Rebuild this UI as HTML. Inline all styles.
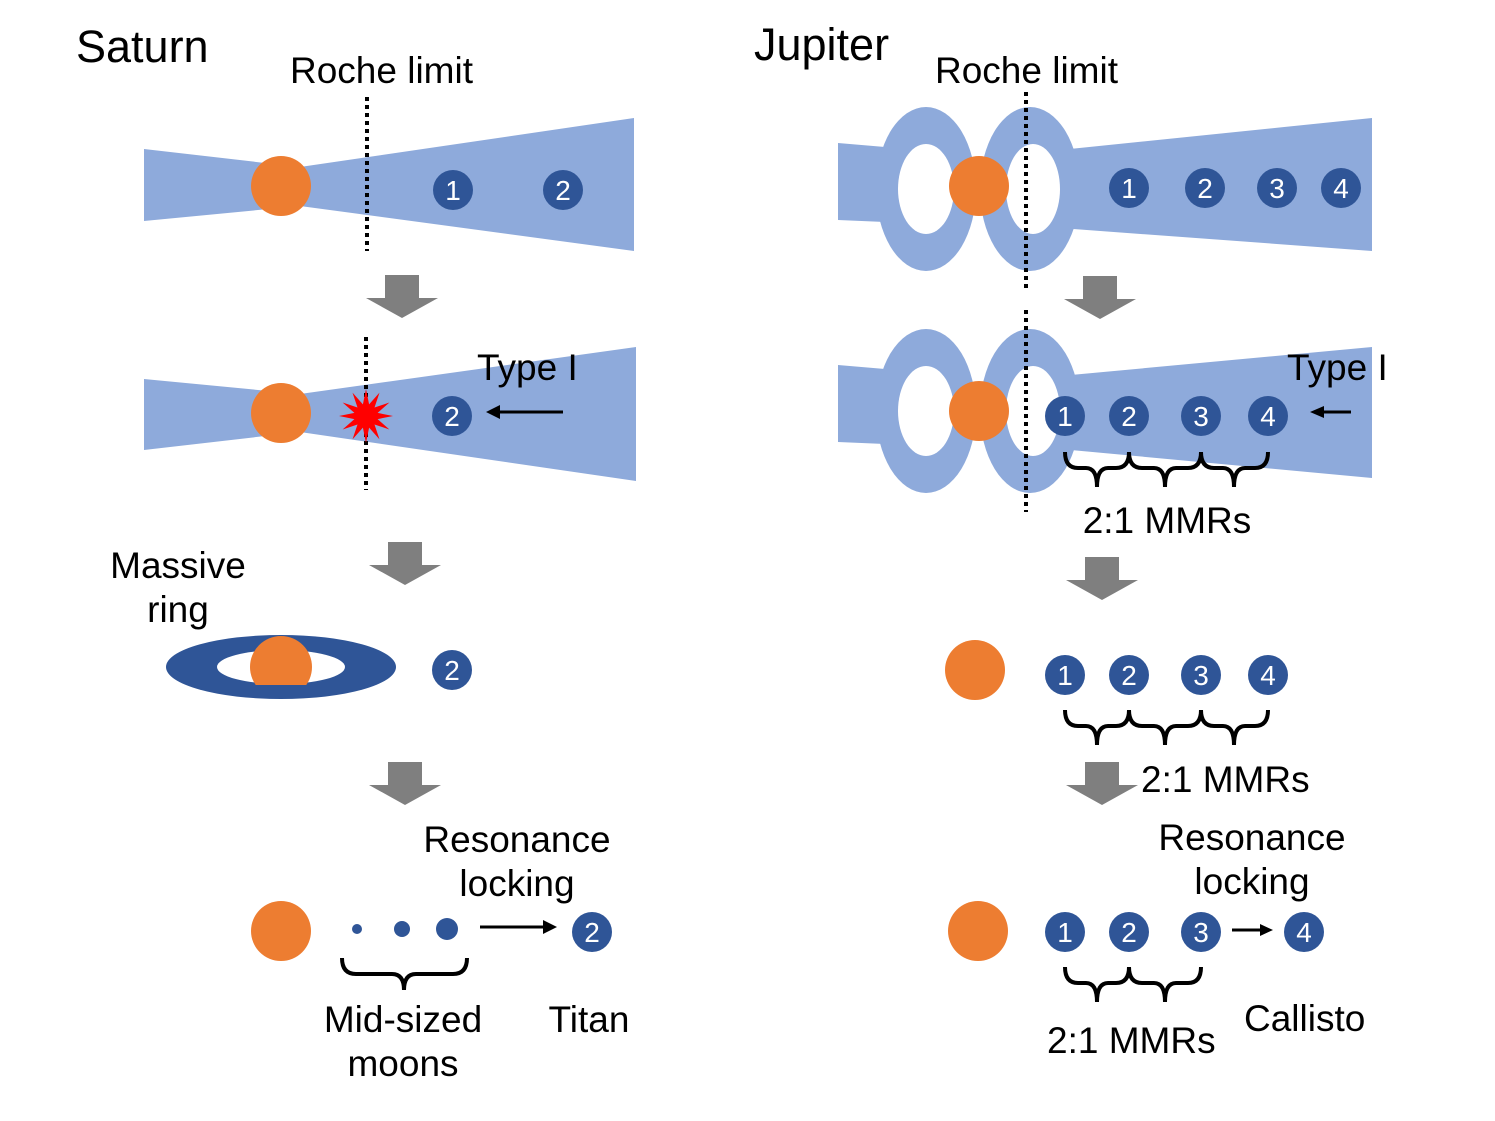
<!DOCTYPE html>
<html><head><meta charset="utf-8"><style>
html,body{margin:0;padding:0;background:#fff;}
svg{display:block;}
text{font-family:"Liberation Sans",Arial,sans-serif;fill:#000;}
.n{fill:#fff;font-size:28px;text-anchor:middle;}
.t{font-size:37px;}
.c{text-anchor:middle;}
</style></head><body>
<svg width="1495" height="1121" viewBox="0 0 1495 1121" xmlns="http://www.w3.org/2000/svg">
<defs>
<g id="arr"><polygon points="-17,0 17,0 17,23 36,23 0,43 -36,23 -17,23" fill="#7F7F7F"/></g>
</defs>
<!-- Saturn -->
<text x="76" y="62" style="font-size:45px">Saturn</text>
<text x="290" y="83" class="t">Roche limit</text>
<polygon points="144,149 300,167 634,118 634,251 300,206 144,221" fill="#8EAADB"/>
<circle cx="281" cy="186" r="30" fill="#ED7D31"/>
<line x1="367" y1="97" x2="367" y2="251" stroke="#000" stroke-width="4" stroke-dasharray="4,4"/>
<circle cx="453" cy="190" r="20" fill="#2F5597"/><text x="453" y="200" class="n">1</text>
<circle cx="563" cy="190" r="20" fill="#2F5597"/><text x="563" y="200" class="n">2</text>
<use href="#arr" x="402" y="275"/>

<polygon points="144,379 300,394 636,347 636,481 300,432 144,450" fill="#8EAADB"/>
<circle cx="281" cy="413" r="30" fill="#ED7D31"/>
<line x1="366" y1="337" x2="366" y2="490" stroke="#000" stroke-width="4" stroke-dasharray="4,4"/>
<polygon fill="#FF0000" points="393,416 377.6,419.1 389.4,429.5 374.5,424.5 379.5,439.4 369.1,427.6 366,443 362.9,427.6 352.5,439.4 357.5,424.5 342.6,429.5 354.4,419.1 339,416 354.4,412.9 342.6,402.5 357.5,407.5 352.5,392.6 362.9,404.4 366,389 369.1,404.4 379.5,392.6 374.5,407.5 389.4,402.5 377.6,412.9"/>
<circle cx="452" cy="416" r="20" fill="#2F5597"/><text x="452" y="426" class="n">2</text>
<line x1="563" y1="412" x2="498" y2="412" stroke="#000" stroke-width="3"/>
<polygon points="486,412 500,405 500,419" fill="#000"/>
<text x="477" y="380" class="t">Type I</text>
<use href="#arr" x="405" y="542"/>

<text x="178" y="578" class="t c">Massive</text>
<text x="178" y="622" class="t c">ring</text>
<ellipse cx="281" cy="667" rx="115" ry="32" fill="#2F5597"/>
<ellipse cx="281" cy="667" rx="64" ry="17" fill="#fff"/>
<clipPath id="cp"><rect x="240" y="600" width="90" height="85"/></clipPath>
<circle cx="281" cy="667" r="31" fill="#ED7D31" clip-path="url(#cp)"/>
<circle cx="452" cy="670" r="20" fill="#2F5597"/><text x="452" y="680" class="n">2</text>
<use href="#arr" x="405" y="762"/>

<text x="517" y="852" class="t c">Resonance</text>
<text x="517" y="896" class="t c">locking</text>
<circle cx="281" cy="931" r="30" fill="#ED7D31"/>
<circle cx="357" cy="929" r="5" fill="#2F5597"/>
<circle cx="402" cy="929" r="8" fill="#2F5597"/>
<circle cx="447" cy="929" r="11" fill="#2F5597"/>
<line x1="480" y1="927" x2="545" y2="927" stroke="#000" stroke-width="3"/>
<polygon points="557,927 543,920 543,934" fill="#000"/>
<circle cx="592" cy="932" r="20" fill="#2F5597"/><text x="592" y="942" class="n">2</text>
<path d="M342,958 Q342,974 356,974 L392,974 Q404,974 404,990 Q404,974 416,974 L453,974 Q467,974 467,958" fill="none" stroke="#000" stroke-width="4"/>
<text x="403" y="1032" class="t c">Mid-sized</text>
<text x="403" y="1076" class="t c">moons</text>
<text x="589" y="1032" class="t c">Titan</text>

<!-- Jupiter -->
<text x="754" y="60" style="font-size:45px">Jupiter</text>
<text x="935" y="83" class="t">Roche limit</text>
<g>
<polygon points="838,143 885,147 885,222 838,220" fill="#8EAADB"/>
<polygon points="1060,150 1372,118 1372,251 1060,228" fill="#8EAADB"/>
<ellipse cx="926" cy="189" rx="50" ry="82" fill="#8EAADB"/>
<ellipse cx="1030" cy="189" rx="50" ry="82" fill="#8EAADB"/>
<ellipse cx="926" cy="189" rx="28" ry="45" fill="#fff"/>
<ellipse cx="1033" cy="189" rx="27" ry="45" fill="#fff"/>
</g>
<circle cx="979" cy="186" r="30" fill="#ED7D31"/>
<line x1="1026" y1="92" x2="1026" y2="292" stroke="#000" stroke-width="4" stroke-dasharray="4,4"/>
<circle cx="1129" cy="188" r="20" fill="#2F5597"/><text x="1129" y="198" class="n">1</text>
<circle cx="1205" cy="188" r="20" fill="#2F5597"/><text x="1205" y="198" class="n">2</text>
<circle cx="1277" cy="188" r="20" fill="#2F5597"/><text x="1277" y="198" class="n">3</text>
<circle cx="1341" cy="188" r="20" fill="#2F5597"/><text x="1341" y="198" class="n">4</text>
<use href="#arr" x="1100" y="276"/>

<g transform="translate(0,222)">
<polygon points="838,143 885,147 885,222 838,220" fill="#8EAADB"/>
<polygon points="1060,154 1372,125 1372,256 1060,227" fill="#8EAADB"/>
<ellipse cx="926" cy="189" rx="50" ry="82" fill="#8EAADB"/>
<ellipse cx="1030" cy="189" rx="50" ry="82" fill="#8EAADB"/>
<ellipse cx="926" cy="189" rx="28" ry="45" fill="#fff"/>
<ellipse cx="1033" cy="189" rx="27" ry="45" fill="#fff"/>
</g>
<circle cx="979" cy="411" r="30" fill="#ED7D31"/>
<line x1="1026" y1="310" x2="1026" y2="512" stroke="#000" stroke-width="4" stroke-dasharray="4,4"/>
<circle cx="1065" cy="416" r="20" fill="#2F5597"/><text x="1065" y="426" class="n">1</text>
<circle cx="1129" cy="416" r="20" fill="#2F5597"/><text x="1129" y="426" class="n">2</text>
<circle cx="1201" cy="416" r="20" fill="#2F5597"/><text x="1201" y="426" class="n">3</text>
<circle cx="1268" cy="416" r="20" fill="#2F5597"/><text x="1268" y="426" class="n">4</text>
<line x1="1351" y1="412" x2="1322" y2="412" stroke="#000" stroke-width="3"/>
<polygon points="1310,412 1324,406 1324,418" fill="#000"/>
<text x="1287" y="380" class="t">Type I</text>
<path d="M1065,452 Q1065,468 1078,468 L1086,468 Q1097,468 1097,487 Q1097,468 1108,468 L1116,468 Q1129,468 1129,452 Q1129,468 1142,468 L1154,468 Q1165,468 1165,487 Q1165,468 1176,468 L1188,468 Q1201,468 1201,452 Q1201,468 1214,468 L1223,468 Q1234,468 1234,487 Q1234,468 1245,468 L1255,468 Q1268,468 1268,452" fill="none" stroke="#000" stroke-width="4"/>
<text x="1167" y="533" class="t c">2:1 MMRs</text>
<use href="#arr" x="1102" y="557"/>

<circle cx="975" cy="670" r="30" fill="#ED7D31"/>
<circle cx="1065" cy="675" r="20" fill="#2F5597"/><text x="1065" y="685" class="n">1</text>
<circle cx="1129" cy="675" r="20" fill="#2F5597"/><text x="1129" y="685" class="n">2</text>
<circle cx="1201" cy="675" r="20" fill="#2F5597"/><text x="1201" y="685" class="n">3</text>
<circle cx="1268" cy="675" r="20" fill="#2F5597"/><text x="1268" y="685" class="n">4</text>
<path transform="translate(0,258)" d="M1065,452 Q1065,468 1078,468 L1086,468 Q1097,468 1097,487 Q1097,468 1108,468 L1116,468 Q1129,468 1129,452 Q1129,468 1142,468 L1154,468 Q1165,468 1165,487 Q1165,468 1176,468 L1188,468 Q1201,468 1201,452 Q1201,468 1214,468 L1223,468 Q1234,468 1234,487 Q1234,468 1245,468 L1255,468 Q1268,468 1268,452" fill="none" stroke="#000" stroke-width="4"/>
<use href="#arr" x="1102" y="762"/>
<text x="1141" y="792" class="t">2:1 MMRs</text>

<text x="1252" y="850" class="t c">Resonance</text>
<text x="1252" y="894" class="t c">locking</text>
<circle cx="978" cy="931" r="30" fill="#ED7D31"/>
<circle cx="1065" cy="932" r="20" fill="#2F5597"/><text x="1065" y="942" class="n">1</text>
<circle cx="1129" cy="932" r="20" fill="#2F5597"/><text x="1129" y="942" class="n">2</text>
<circle cx="1201" cy="932" r="20" fill="#2F5597"/><text x="1201" y="942" class="n">3</text>
<circle cx="1304" cy="932" r="20" fill="#2F5597"/><text x="1304" y="942" class="n">4</text>
<line x1="1232" y1="930" x2="1262" y2="930" stroke="#000" stroke-width="3"/>
<polygon points="1273,930 1260,924 1260,936" fill="#000"/>
<path transform="translate(0,515)" d="M1065,452 Q1065,468 1078,468 L1086,468 Q1097,468 1097,487 Q1097,468 1108,468 L1116,468 Q1129,468 1129,452 Q1129,468 1142,468 L1154,468 Q1165,468 1165,487 Q1165,468 1176,468 L1188,468 Q1201,468 1201,452" fill="none" stroke="#000" stroke-width="4"/>
<text x="1047" y="1053" class="t">2:1 MMRs</text>
<text x="1244" y="1031" class="t">Callisto</text>
</svg>
</body></html>
